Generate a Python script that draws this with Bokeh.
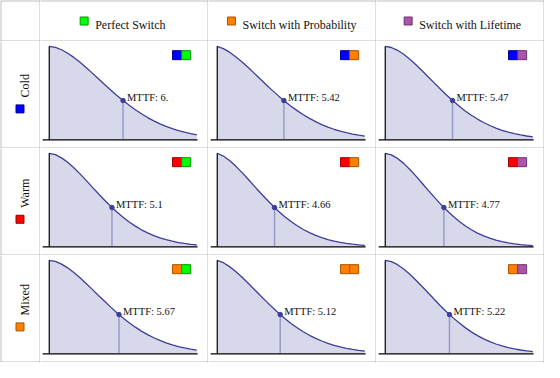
import math
from bokeh.plotting import figure
from bokeh.layouts import gridplot
from bokeh.models import Range1d
from bokeh.core.properties import value
from bokeh.embed import file_html
from bokeh.resources import INLINE

# ---------------- data ----------------
standby_types = ["Cold", "Warm", "Mixed"]
switch_types = ["Perfect Switch", "Switch with Probability", "Switch with Lifetime"]
standby_colors = ["#0000ff", "#ff0000", "#ff8000"]
standby_edges = ["#00009a", "#9a0000", "#a85400"]
switch_colors = ["#00ff00", "#ff8000", "#aa55aa"]
switch_edges = ["#009a00", "#a85400", "#6e346e"]

time_h = [0, 0.5, 1, 1.5, 2, 2.5, 3, 3.5, 4, 4.5, 5, 5.5, 6, 6.5, 7, 7.5, 8,
          8.5, 9, 9.5, 10, 10.5, 11, 11.5, 12]

cold_perfect = [1.0, 0.989, 0.963, 0.926, 0.881, 0.829, 0.773, 0.713, 0.653, 0.592, 0.532, 0.475, 0.420,
                0.369, 0.321, 0.278, 0.238, 0.203, 0.171, 0.144, 0.120, 0.099, 0.082, 0.067, 0.054]
cold_prob = [1.0, 0.975, 0.937, 0.889, 0.835, 0.775, 0.713, 0.650, 0.587, 0.526, 0.467, 0.411, 0.359,
             0.312, 0.268, 0.229, 0.194, 0.163, 0.136, 0.113, 0.093, 0.076, 0.062, 0.050, 0.040]
cold_life = [1.0, 0.987, 0.957, 0.914, 0.862, 0.802, 0.738, 0.672, 0.606, 0.540, 0.477, 0.417, 0.361,
             0.309, 0.263, 0.222, 0.185, 0.153, 0.126, 0.102, 0.083, 0.066, 0.053, 0.041, 0.032]
warm_perfect = [1.0, 0.985, 0.951, 0.903, 0.845, 0.780, 0.710, 0.638, 0.567, 0.498, 0.433, 0.372, 0.316,
                0.265, 0.221, 0.182, 0.149, 0.120, 0.096, 0.076, 0.060, 0.046, 0.036, 0.027, 0.021]
warm_prob = [1.0, 0.970, 0.922, 0.863, 0.796, 0.725, 0.651, 0.578, 0.508, 0.441, 0.378, 0.321, 0.270,
             0.225, 0.185, 0.151, 0.122, 0.098, 0.077, 0.061, 0.047, 0.037, 0.028, 0.021, 0.016]
warm_life = [1.0, 0.983, 0.945, 0.892, 0.827, 0.756, 0.680, 0.604, 0.529, 0.457, 0.390, 0.329, 0.274,
             0.225, 0.183, 0.147, 0.117, 0.092, 0.072, 0.055, 0.042, 0.032, 0.024, 0.018, 0.013]
mixed_perfect = [1.0, 0.988, 0.959, 0.919, 0.869, 0.813, 0.752, 0.689, 0.624, 0.561, 0.499, 0.439, 0.384,
                 0.332, 0.285, 0.243, 0.205, 0.172, 0.143, 0.118, 0.096, 0.078, 0.063, 0.050, 0.040]
mixed_prob = [1.0, 0.974, 0.932, 0.880, 0.821, 0.757, 0.691, 0.624, 0.558, 0.495, 0.434, 0.377, 0.325,
              0.278, 0.236, 0.198, 0.165, 0.137, 0.112, 0.091, 0.074, 0.059, 0.047, 0.037, 0.029]
mixed_life = [1.0, 0.986, 0.953, 0.907, 0.851, 0.787, 0.720, 0.650, 0.580, 0.512, 0.447, 0.387, 0.331,
              0.280, 0.235, 0.195, 0.160, 0.131, 0.105, 0.084, 0.067, 0.053, 0.041, 0.032, 0.024]

mttf_cold = [6.0, 5.42, 5.47]
mttf_warm = [5.1, 4.66, 4.77]
mttf_mixed = [5.67, 5.12, 5.22]
mttf_labels_cold = ["MTTF: 6.", "MTTF: 5.42", "MTTF: 5.47"]
mttf_labels_warm = ["MTTF: 5.1", "MTTF: 4.66", "MTTF: 4.77"]
mttf_labels_mixed = ["MTTF: 5.67", "MTTF: 5.12", "MTTF: 5.22"]
rel_at_mttf_cold = [0.42, 0.42, 0.42]
rel_at_mttf_warm = [0.42, 0.42, 0.42]
rel_at_mttf_mixed = [0.42, 0.42, 0.42]

curves = [[cold_perfect, cold_prob, cold_life],
          [warm_perfect, warm_prob, warm_life],
          [mixed_perfect, mixed_prob, mixed_life]]
mttfs = [mttf_cold, mttf_warm, mttf_mixed]
mttf_labels = [mttf_labels_cold, mttf_labels_warm, mttf_labels_mixed]
rel_at_mttf = [rel_at_mttf_cold, rel_at_mttf_warm, rel_at_mttf_mixed]

# ---------------- layout / style ----------------
GRID = "#808080"
CURVE = "#3d3d9c"
SERIF = value("Liberation Serif")
LABEL_W = 38      # interior width of the label column
PLOT_W = 167      # interior width of plot columns
HEAD_H = 39       # interior height of header row
PLOT_H = 106      # interior height of plot rows

# header texts widths at 12px (for centring square + text)
head_text_w = [72.7, 114.0, 96.7]
row_text_w = [23.3, 30.0, 31.3]


def base_fig(w, h, x_range, y_range, top=0, left=0):
    p = figure(width=w + 1 + left, height=h + 1 + top, x_range=x_range, y_range=y_range,
               output_backend="svg", toolbar_location=None, title=None,
               x_axis_location=None, y_axis_location=None,
               min_border_left=left, min_border_top=top, min_border_right=1, min_border_bottom=1,
               background_fill_color="white", border_fill_color=GRID, outline_line_color=None)
    p.toolbar.logo = None
    p.xgrid.visible = False
    p.ygrid.visible = False
    return p


def corner_cell():
    p = base_fig(LABEL_W, HEAD_H, Range1d(0, LABEL_W), Range1d(HEAD_H, 0), top=1, left=1)
    return p


def header_cell(j):
    p = base_fig(PLOT_W, HEAD_H, Range1d(0, PLOT_W), Range1d(HEAD_H, 0), top=1)
    group = 8 + 7 + head_text_w[j]
    x0 = PLOT_W / 2 - group / 2
    p.scatter(x=[x0 + 4], y=[19.5], marker="square", size=8,
              fill_color=switch_colors[j], line_color=switch_edges[j], line_width=1)
    p.text(x=[x0 + 15], y=[23.5], text=[switch_types[j]], text_font=SERIF,
           text_font_size="12px", text_color="#111111", text_align="left",
           text_baseline="alphabetic")
    return p


def label_cell(i):
    p = base_fig(LABEL_W, PLOT_H, Range1d(0, LABEL_W), Range1d(PLOT_H, 0), left=1)
    group = row_text_w[i] + 7.5 + 8
    cy = PLOT_H / 2 - 1
    top = cy - group / 2
    p.text(x=[LABEL_W / 2 + 4], y=[top + row_text_w[i]], text=[standby_types[i]],
           angle=math.pi / 2, text_font=SERIF, text_font_size="12px",
           text_color="#111111", text_align="left", text_baseline="alphabetic")
    p.scatter(x=[LABEL_W / 2 - 0.5], y=[top + group - 4], marker="square", size=8,
              fill_color=standby_colors[i], line_color=standby_edges[i], line_width=1)
    return p


def plot_cell(i, j):
    p = base_fig(PLOT_W, PLOT_H, Range1d(-0.711, 12.868), Range1d(-0.082, 1.051))
    r = curves[i][j]
    m = mttfs[i][j]
    rm = rel_at_mttf[i][j]
    p.varea(x=time_h, y1=0, y2=r, fill_color=CURVE, fill_alpha=0.2)
    p.line(time_h, r, line_color=CURVE, line_width=1.3)
    # axes (Mathematica style, through origin)
    p.segment(x0=[-0.53], y0=[0], x1=[12.06], y1=[0], line_color="black", line_width=1.2)
    p.segment(x0=[0], y0=[0], x1=[0], y1=[max(r)], line_color="black", line_width=1.2)
    # MTTF marker
    p.segment(x0=[m], y0=[0], x1=[m], y1=[rm], line_color=CURVE, line_alpha=0.4, line_width=1.5)
    p.scatter(x=[m], y=[rm], size=4.5, fill_color=CURVE, line_color=CURVE)
    p.text(x=[m], y=[rm], text=[mttf_labels[i][j]], x_offset=4, y_offset=-3,
           text_font=SERIF, text_font_size="10.5px", text_color="#111111",
           text_align="left", text_baseline="alphabetic")
    # swatch legend (standby colour + switch colour)
    p.scatter(x=[10.39], y=[0.905], marker="square", size=9,
              fill_color=standby_colors[i], line_color=standby_edges[i], line_width=1)
    p.scatter(x=[11.13], y=[0.905], marker="square", size=9,
              fill_color=switch_colors[j], line_color=switch_edges[j], line_width=1)
    return p


rows = [[corner_cell()] + [header_cell(j) for j in range(3)]]
for i in range(3):
    rows.append([label_cell(i)] + [plot_cell(i, j) for j in range(3)])

grid = gridplot(rows, toolbar_location=None)

open("out.html", "w").write(file_html(grid, INLINE))
